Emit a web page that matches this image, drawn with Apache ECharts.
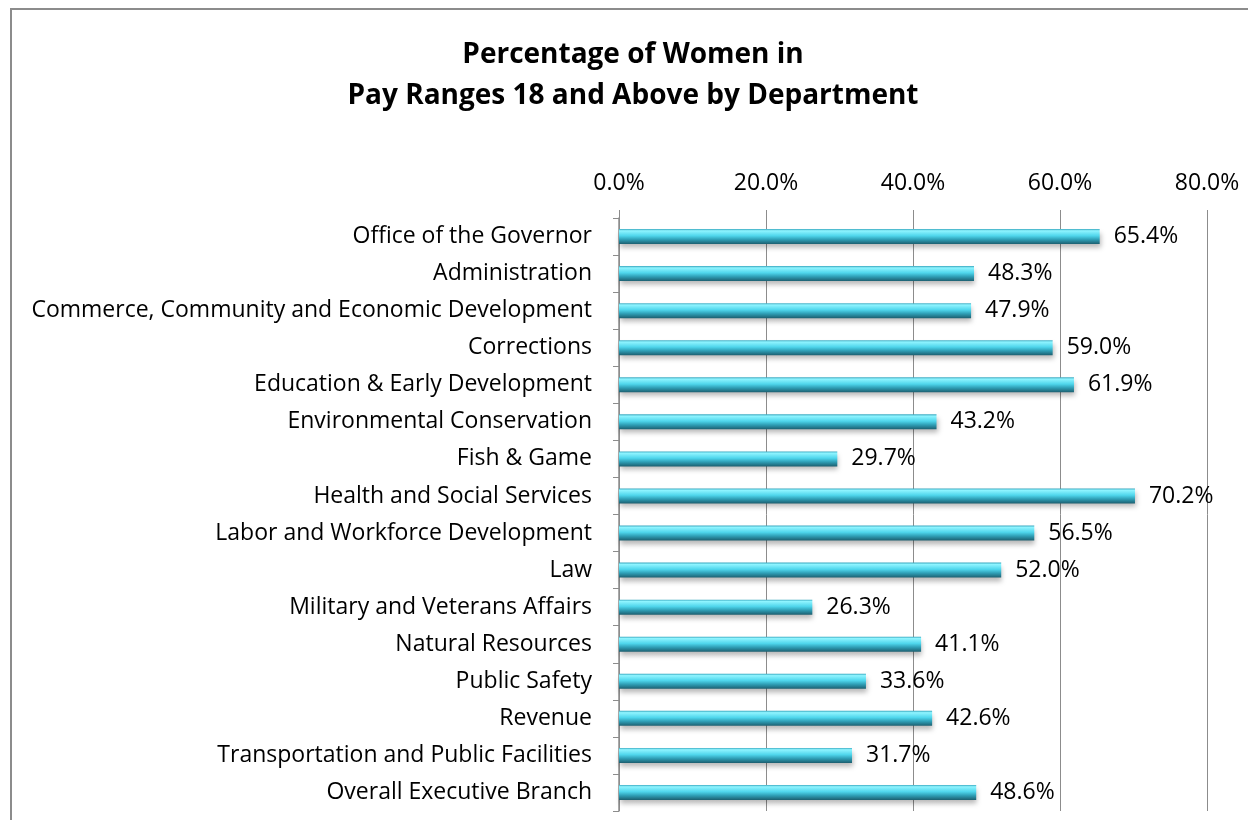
<!DOCTYPE html>
<html>
<head>
<meta charset="utf-8">
<script src="https://cdn.jsdelivr.net/npm/echarts@6/dist/echarts.min.js"></script>
<style>
html,body{margin:0;padding:0;background:#fff;}
#chart{width:1248px;height:820px;}
</style>
</head>
<body>
<div id="chart"></div>
<script>
const categories = [
  'Office of the Governor',
  'Administration',
  'Commerce, Community and Economic Development',
  'Corrections',
  'Education & Early Development',
  'Environmental Conservation',
  'Fish & Game',
  'Health and Social Services',
  'Labor and Workforce Development',
  'Law',
  'Military and Veterans Affairs',
  'Natural Resources',
  'Public Safety',
  'Revenue',
  'Transportation and Public Facilities',
  'Overall Executive Branch'
];
const womenPct = [65.4, 48.3, 47.9, 59.0, 61.9, 43.2, 29.7, 70.2, 56.5, 52.0, 26.3, 41.1, 33.6, 42.6, 31.7, 48.6];
const axisTicks = [0, 20, 40, 60, 80];
const titleLines = ['Percentage of Women in', 'Pay Ranges 18 and Above by Department'];

const FONT = '"Open Sans"';
const chart = echarts.init(document.getElementById('chart'));
chart.setOption({
  animation: false,
  backgroundColor: '#ffffff',
  graphic: [{
    type: 'rect',
    shape: { x: 11, y: 9, width: 1400, height: 1000 },
    style: { fill: 'none', stroke: '#8c8c8c', lineWidth: 2 },
    silent: true
  }],
  title: {
    text: titleLines.join('\n'),
    left: 628,
    textAlign: 'center',
    top: 30,
    textStyle: { fontFamily: FONT, fontSize: 28, fontWeight: 'bold', color: '#000', lineHeight: 41 }
  },
  grid: { left: 619, right: 41, top: 218, bottom: 9, containLabel: false },
  xAxis: {
    type: 'value',
    position: 'top',
    min: axisTicks[0],
    max: axisTicks[axisTicks.length - 1],
    interval: axisTicks[1] - axisTicks[0],
    axisLine: { show: false },
    axisTick: { show: true, length: 8, lineStyle: { color: '#8c8c8c', width: 1 } },
    splitLine: { show: true, lineStyle: { color: '#8c8c8c', width: 1 } },
    axisLabel: {
      margin: 23,
      fontFamily: FONT, fontSize: 23, color: '#000',
      formatter: v => v.toFixed(1) + '%'
    }
  },
  yAxis: {
    type: 'category',
    data: categories,
    inverse: true,
    axisLine: { show: true, lineStyle: { color: '#8c8c8c', width: 1.5 } },
    axisTick: { show: true, length: 6, lineStyle: { color: '#8c8c8c', width: 1 } },
    axisLabel: { margin: 27, fontFamily: FONT, fontSize: 23, color: '#000' }
  },
  series: [{
    type: 'bar',
    data: womenPct,
    barWidth: 15,
    itemStyle: {
      color: new echarts.graphic.LinearGradient(0, 0, 0, 1, [
        { offset: 0, color: '#3aa9c0' },
        { offset: 0.12, color: '#8ff4ff' },
        { offset: 0.45, color: '#4fd6ec' },
        { offset: 0.7, color: '#2f9fb6' },
        { offset: 1, color: '#1c5f70' }
      ]),
      shadowColor: 'rgba(0,0,0,0.28)',
      shadowBlur: 5,
      shadowOffsetY: 4,
      shadowOffsetX: 1
    },
    label: {
      show: true,
      position: 'right',
      distance: 14,
      fontFamily: FONT, fontSize: 23, color: '#000',
      formatter: p => p.value.toFixed(1) + '%'
    }
  }]
});
</script>
</body>
</html>
